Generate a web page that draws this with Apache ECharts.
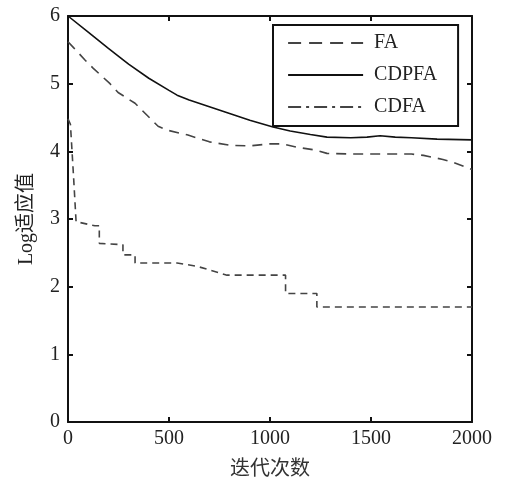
<!DOCTYPE html>
<html>
<head>
<meta charset="utf-8">
<script src="https://cdn.jsdelivr.net/npm/echarts@6/dist/echarts.min.js"></script>
<style>html,body{margin:0;padding:0;background:#fff;}#c{width:506px;height:485px;}</style>
</head>
<body>
<div id="c"></div>
<script>
// Data
var seriesNames = ['FA', 'CDPFA', 'CDFA'];
var xTicks = [0, 500, 1000, 1500, 2000];
var yTicks = [0, 1, 2, 3, 4, 5, 6];

var faData = [[0,5.62],[25,5.54],[84,5.35],[124,5.23],[208,5.0],[248,4.87],[332,4.71],[446,4.37],[495,4.31],[594,4.24],[700,4.14],[800,4.09],[900,4.08],[1000,4.11],[1064,4.11],[1134,4.06],[1223,4.02],[1282,3.97],[1400,3.96],[1700,3.96],[1760,3.94],[1856,3.88],[1906,3.84],[2000,3.73]];

var cdpfaData = [[0,6.0],[100,5.76],[200,5.52],[257,5.39],[300,5.29],[400,5.08],[500,4.90],[540,4.83],[600,4.76],[700,4.66],[800,4.56],[900,4.46],[1015,4.36],[1100,4.30],[1200,4.25],[1282,4.21],[1400,4.20],[1480,4.21],[1545,4.23],[1620,4.21],[1700,4.20],[1827,4.18],[2000,4.17]];

var cdfaData = [[0,4.48],[12,4.40],[28,3.6],[40,2.96],[133,2.90],[155,2.90],[155,2.64],[272,2.62],[272,2.47],[332,2.47],[332,2.35],[540,2.35],[640,2.30],[787,2.17],[1077,2.17],[1077,1.90],[1232,1.90],[1232,1.70],[2000,1.70]];

var chart = echarts.init(document.getElementById('c'));
var serif = '"Liberation Serif", "Times New Roman", serif';
var cjk = '"Liberation Serif", "Noto Sans CJK SC", serif';
var axisLine = {show: true, onZero: false, lineStyle: {color: '#111', width: 2}};
var tick = {show: true, inside: true, length: 5, lineStyle: {color: '#111', width: 2}};
function inTicks(list) { return function (v) { return list.indexOf(v) >= 0 ? String(v) : ''; }; }

chart.setOption({
  animation: false,
  backgroundColor: '#fff',
  grid: {left: 68, right: 34, top: 16, bottom: 63, containLabel: false},
  legend: {
    orient: 'vertical',
    left: 273, top: 25,
    padding: [8, 21, 9, 14],
    borderColor: '#111', borderWidth: 2,
    itemWidth: 75, itemHeight: 20, itemGap: 12,
    itemStyle: {opacity: 0},
    textStyle: {fontFamily: serif, fontSize: 20, color: '#222', padding: [0,0,0,6], lineHeight: 20},
    data: [
      {name: seriesNames[0], lineStyle: {width: 2, type: [13, 8]}},
      {name: seriesNames[1], lineStyle: {width: 2.2}},
      {name: seriesNames[2], lineStyle: {width: 2, type: [13, 5, 3, 5]}}
    ]
  },
  xAxis: [{
    type: 'value', min: 0, max: 2000, interval: 500,
    name: '迭代次数', nameLocation: 'middle', nameGap: 38,
    nameTextStyle: {fontFamily: cjk, fontSize: 20, color: '#333'},
    axisLine: axisLine, axisTick: tick,
    axisLabel: {fontFamily: serif, fontSize: 20, color: '#222', margin: 7, formatter: inTicks(xTicks)},
    splitLine: {show: false}
  }, {
    type: 'value', position: 'top', min: 0, max: 2000, interval: 500,
    axisLine: axisLine, axisTick: tick, axisLabel: {show: false}, splitLine: {show: false}
  }],
  yAxis: [{
    type: 'value', min: 0, max: 6, interval: 1,
    name: 'Log适应值', nameLocation: 'middle', nameGap: 31,
    nameTextStyle: {fontFamily: cjk, fontSize: 20, color: '#222'},
    axisLine: axisLine, axisTick: tick,
    axisLabel: {fontFamily: serif, fontSize: 20, color: '#222', margin: 8, formatter: inTicks(yTicks)},
    splitLine: {show: false}
  }, {
    type: 'value', position: 'right', min: 0, max: 6, interval: 1,
    axisLine: axisLine, axisTick: tick, axisLabel: {show: false}, splitLine: {show: false}
  }],
  series: [
    {name: seriesNames[0], type: 'line', data: faData, symbol: 'none', color: '#444',
     lineStyle: {color: '#444', width: 1.6, type: [10, 7]}},
    {name: seriesNames[1], type: 'line', data: cdpfaData, symbol: 'none', color: '#111',
     lineStyle: {color: '#111', width: 1.6, type: 'solid'}},
    {name: seriesNames[2], type: 'line', data: cdfaData, symbol: 'none', color: '#444',
     lineStyle: {color: '#444', width: 1.6, type: [7, 5]}}
  ]
});
</script>
</body>
</html>
